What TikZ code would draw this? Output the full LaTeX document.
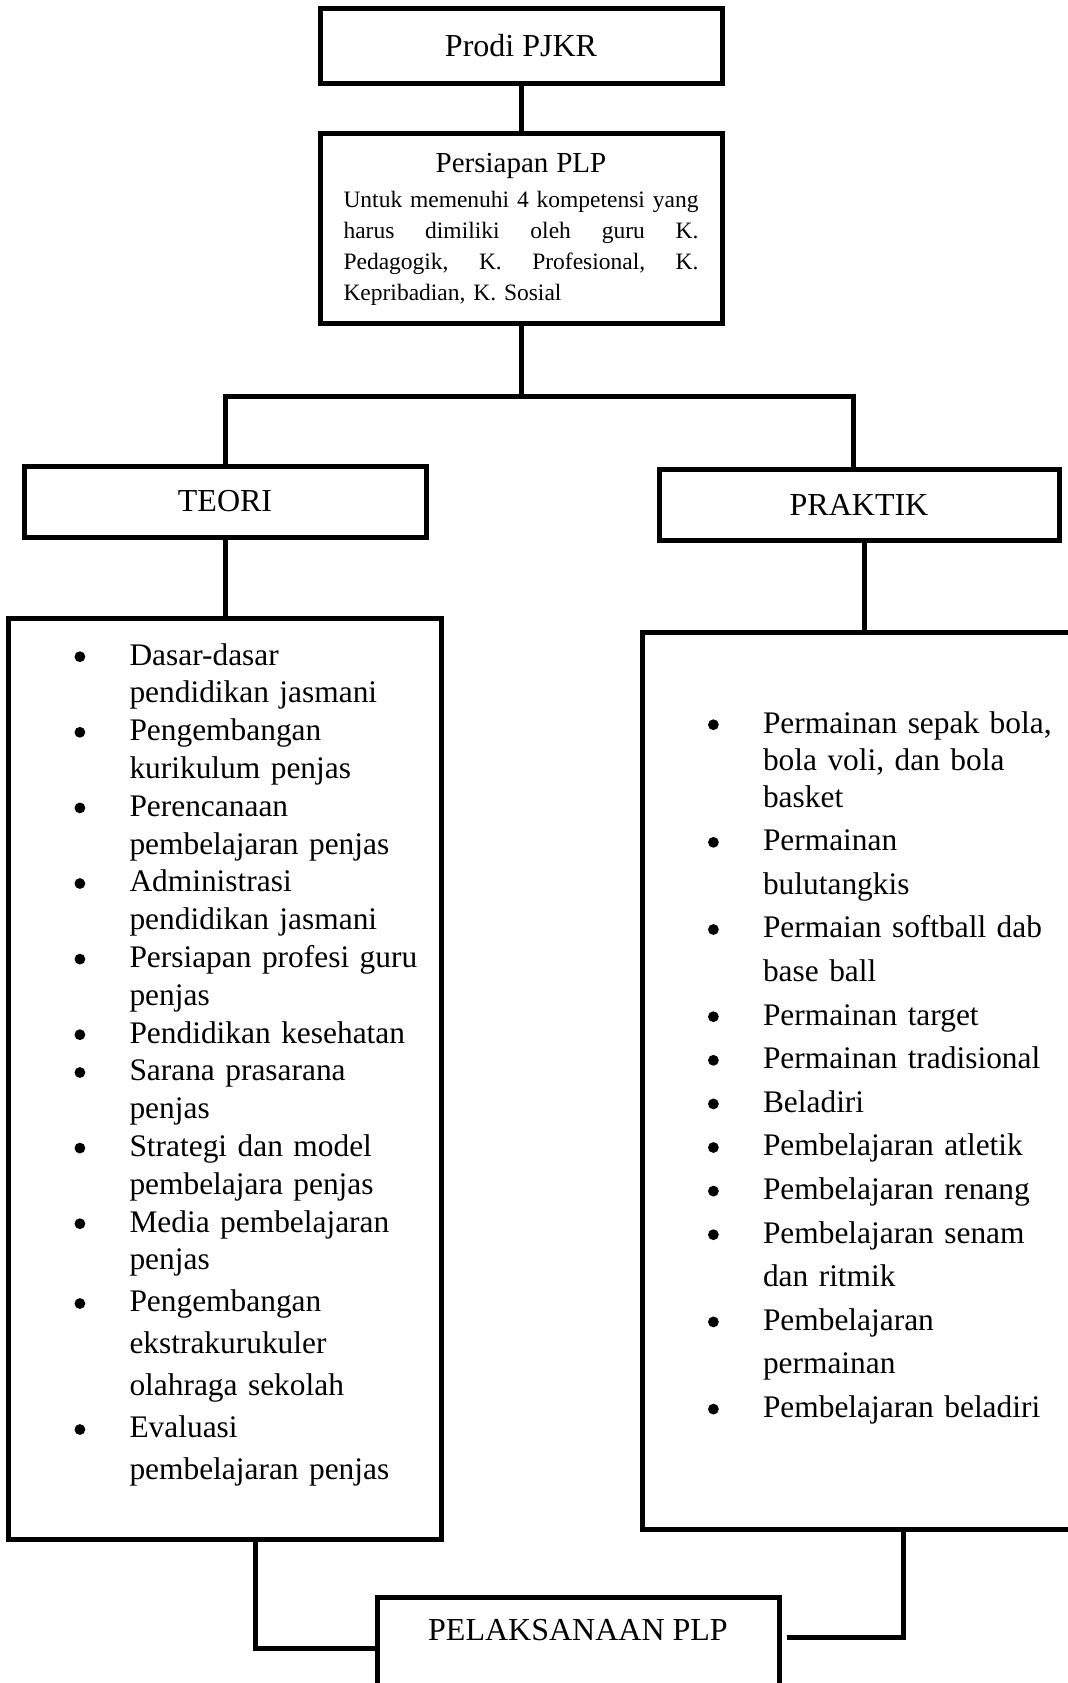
\documentclass[tikz,border=0pt]{standalone}
\usepackage{fontspec}
\setmainfont{Liberation Serif}
\usetikzlibrary{positioning}

\newcommand*{\bul}{\makebox[55.5pt][l]{\hspace{28pt}\tikz[baseline=-4.15pt]\fill (0,0) circle (2.7pt);}}
\newcommand*{\ind}{\hspace*{55.5pt}}
\newcommand*{\jline}[1]{\makebox[177.5pt][s]{#1}}

\tikzset{
  box/.style={draw, line width=2.5pt, minimum width=201pt, minimum height=35.5pt,
    inner sep=0pt, outer sep=0pt, font=\fontsize{16}{19}\selectfont},
  listbox/.style={draw, line width=2.5pt, align=left, inner xsep=5pt, inner ysep=0pt,
    outer sep=0pt},
  link/.style={line width=2.5pt},
}

\begin{document}
\begin{tikzpicture}[x=0.5pt,y=-0.5pt]
\useasboundingbox (0,0) rectangle (1068,1683);

 % Top boxes
 \node[box, minimum height=37.5pt] (prodi) at (521,45.5) {Prodi PJKR};

\node [box,
    minimum height=95pt,
    text width=177.5pt,
    align=left,
    font=\fontsize{11.75}{15.5}\selectfont,
    below=25pt of prodi
]  (persiapan) {%
\makebox[177.5pt]{\fontsize{14.5}{17}\selectfont\rule{0pt}{19.5pt}Persiapan PLP}\\[2pt]
\jline{Untuk\hfill memenuhi\hfill 4\hfill kompetensi\hfill yang}\\
\jline{harus\hfill dimiliki\hfill oleh\hfill guru\hfill K.}\\
\jline{Pedagogik,\hfill K.\hfill Profesional,\hfill K.}\\
Kepribadian, K. Sosial\rule[-11.5pt]{0pt}{11.5pt}};

 % Branches
 \node[box] (teori) at (225,501.5) {TEORI};
 \node[box, minimum width=200pt] (praktik) at (859,504.5) {PRAKTIK};

 % Teori list
\node [listbox,
    text width=206.5pt,
    font=\fontsize{15.7}{18.9}\selectfont,
    below=40.5pt of teori
] (tlist) {%
\bul\rule{0pt}{23.5pt}Dasar-dasar\\
\ind pendidikan jasmani\\
\bul Pengembangan\\
\ind kurikulum penjas\\
\bul Perencanaan\\
\ind pembelajaran penjas\\
\bul Administrasi\\
\ind pendidikan jasmani\\
\bul Persiapan profesi guru\\
\ind penjas\\
\bul Pendidikan kesehatan\\
\bul Sarana prasarana\\
\ind penjas\\
\bul Strategi dan model\\
\ind pembelajara penjas\\
\bul Media pembelajaran\\
\ind penjas\\[2.1pt]
\bul Pengembangan\\[2.1pt]
\ind ekstrakurukuler\\[2.1pt]
\ind olahraga sekolah\\[2.1pt]
\bul Evaluasi\\[2.1pt]
\ind pembelajaran penjas\rule[-30pt]{0pt}{30pt}};

 % Praktik list
\node [listbox,
    text width=214pt,
    font=\fontsize{15.7}{21.8}\selectfont
] (plist) at (866,1080.7) {%
\bul\rule{0pt}{50.5pt}Permainan sepak bola,\\[-3.3pt]
\ind bola voli, dan bola\\[-3.3pt]
\ind basket\\
\bul Permainan\\
\ind bulutangkis\\
\bul Permaian softball dab\\
\ind base ball\\
\bul Permainan target\\
\bul Permainan tradisional\\
\bul Beladiri\\
\bul Pembelajaran atletik\\
\bul Pembelajaran renang\\
\bul Pembelajaran senam\\
\ind dan ritmik\\
\bul Pembelajaran\\
\ind permainan\\
\bul Pembelajaran beladiri\rule[-56pt]{0pt}{56pt}};

 % Bottom box
\node [box, anchor=north] (pelaks) at (578,1597)
    {\rule{0pt}{21.75pt}PELAKSANAAN PLP\rule[-29.75pt]{0pt}{29.75pt}};

 % Connectors
\coordinate (split) at (521,396);
\draw[link] (prodi.south) -- (persiapan.north);
\draw[link] (persiapan.south) -- (split);
\draw[link] (teori.north) |- (split) -| ([xshift=-3pt]praktik.north);

\draw[link] (teori.south) -- (teori.south |- tlist.north);
\draw[link] ([xshift=2.5pt]praktik.south) coordinate (pk) -- (pk |- plist.north);

\draw[link] ([xshift=15pt]tlist.south) |- (pelaks.west);
\draw[link] ([xshift=18.5pt]plist.south) |- ([xshift=4pt,yshift=5.75pt]pelaks.east);
\end{tikzpicture}
\end{document}
